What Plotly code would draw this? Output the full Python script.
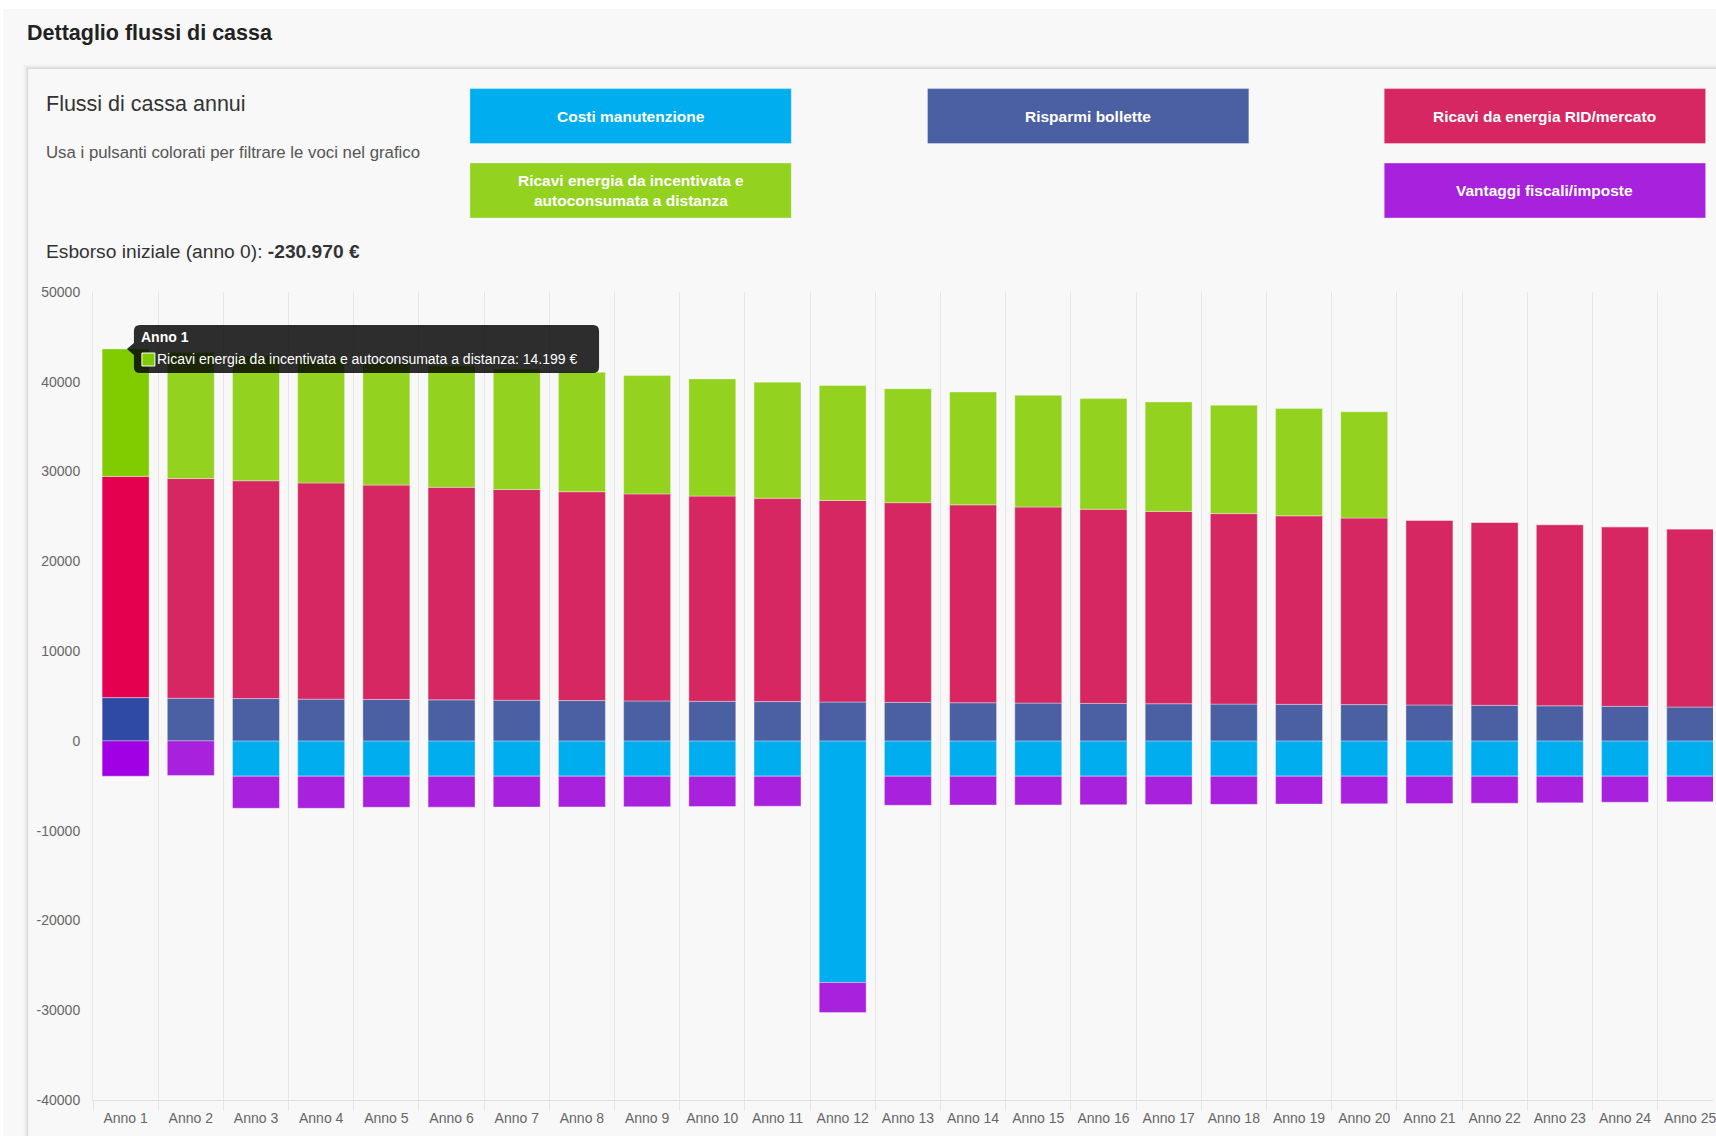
import plotly.graph_objects as go

# ---------------- data ----------------
anni = ["Anno 1", "Anno 2", "Anno 3", "Anno 4", "Anno 5", "Anno 6", "Anno 7", "Anno 8",
        "Anno 9", "Anno 10", "Anno 11", "Anno 12", "Anno 13", "Anno 14", "Anno 15",
        "Anno 16", "Anno 17", "Anno 18", "Anno 19", "Anno 20", "Anno 21", "Anno 22",
        "Anno 23", "Anno 24", "Anno 25"]

costi_manutenzione = [0, 0, -3930, -3930, -3930, -3930, -3930, -3930, -3930, -3930, -3930,
                      -26920, -3930, -3930, -3930, -3930, -3930, -3930, -3930, -3930, -3930,
                      -3930, -3930, -3930, -3930]
risparmi_bollette = [4820, 4745, 4710, 4650, 4610, 4570, 4530, 4490, 4450, 4410, 4375, 4330,
                     4290, 4250, 4210, 4170, 4140, 4100, 4070, 4040, 4000, 3960, 3910, 3850, 3770]
ricavi_rid = [24640, 24475, 24265, 24080, 23880, 23675, 23470, 23265, 23060, 22855, 22645,
              22450, 22245, 22040, 21835, 21630, 21420, 21215, 21000, 20785, 20580, 20380,
              20180, 20000, 19840]
ricavi_incentivata = [14199, 14030, 13905, 13785, 13660, 13535, 13415, 13295, 13180, 13055,
                      12935, 12810, 12685, 12570, 12445, 12325, 12200, 12075, 11960, 11835,
                      0, 0, 0, 0, 0]
vantaggi_fiscali = [-3930, -3850, -3570, -3570, -3460, -3450, -3440, -3420, -3400, -3380,
                    -3340, -3340, -3240, -3220, -3200, -3180, -3160, -3140, -3100, -3080,
                    -3050, -3010, -2970, -2900, -2860]

y_tick_vals = [50000, 40000, 30000, 20000, 10000, 0, -10000, -20000, -30000, -40000]
y_tick_text = ["50000", "40000", "30000", "20000", "10000", "0", "-10000", "-20000", "-30000", "-40000"]

esborso_iniziale = "-230.970 €"
tooltip_anno = "Anno 1"
tooltip_valore = "14.199 €"

# ---------------- layout geometry (page pixels) ----------------
W, H = 1716, 1136
PL, PR, PT, PB = 93, 1716, 292, 1100   # plot area in page pixels
FONT = "Liberation Sans, Arial, Helvetica, sans-serif"


def X(p):
    return (p - PL) / (PR - PL)


def Y(p):
    return (PB - p) / (PB - PT)


series = [
    ("Costi manutenzione", costi_manutenzione, "#00AEEF", "#00AEEF"),
    ("Risparmi bollette", risparmi_bollette, "#4A60A3", "#2E4AA3"),
    ("Ricavi da energia RID/mercato", ricavi_rid, "#D62762", "#E4004F"),
    ("Ricavi energia da incentivata e autoconsumata a distanza", ricavi_incentivata, "#93D21E", "#80CC00"),
    ("Vantaggi fiscali/imposte", vantaggi_fiscali, "#A821DD", "#A100E4"),
]

fig = go.Figure()
for name, vals, col, hcol in series:
    colors = [hcol] + [col] * (len(anni) - 1)
    fig.add_trace(go.Bar(
        x=anni, y=vals, name=name,
        marker=dict(color=colors, line=dict(color="rgba(255,255,255,0.35)", width=1)),
        hoverinfo="skip",
    ))

shapes = []
# outer container
shapes.append(dict(type="rect", xref="paper", yref="paper", layer="below",
                   x0=X(3), x1=X(1760), y0=Y(9), y1=Y(1160),
                   fillcolor="#f8f8f8", line=dict(width=0)))
# card shadow
for k, a in [(5, 0.012), (4, 0.016), (3, 0.022), (2, 0.03), (1, 0.045)]:
    shapes.append(dict(type="rect", xref="paper", yref="paper", layer="below",
                       x0=X(28 - k), x1=X(1760), y0=Y(69 - k), y1=Y(1160),
                       fillcolor=f"rgba(0,0,0,{a})", line=dict(width=0)))
shapes.append(dict(type="rect", xref="paper", yref="paper", layer="below",
                   x0=X(28), x1=X(1760), y0=Y(69), y1=Y(1160),
                   fillcolor="#f8f8f8", line=dict(width=0)))

# buttons
buttons = [
    ("Costi manutenzione", 470.6, 88.6, "#00AEEF"),
    ("Risparmi bollette", 929, 88.6, "#4A60A3"),
    ("Ricavi da energia RID/mercato", 1386.6, 88.6, "#D62762"),
    ("Ricavi energia da incentivata e<br>autoconsumata a distanza", 470.6, 163, "#93D21E"),
    ("Vantaggi fiscali/imposte", 1386.6, 163, "#A821DD"),
]
BW, BH = 322, 55
annotations = []
for label, bx, by, col in buttons:
    shapes.append(dict(type="rect", xref="paper", yref="paper", layer="above",
                       x0=X(bx), x1=X(bx + BW), y0=Y(by), y1=Y(by + BH),
                       fillcolor=col, line=dict(color="rgba(255,255,255,0.35)", width=1)))
    annotations.append(dict(xref="paper", yref="paper", x=X(bx + BW / 2), y=Y(by + BH / 2),
                            text=f"<b>{label}</b>", showarrow=False, xanchor="center",
                            yanchor="middle", align="center",
                            font=dict(family=FONT, size=15.5, color="white")))

# tooltip
x0, x1, y0, y1, r = 134, 600, 325, 373, 6
path = (f"M {X(x0 + r)},{Y(y0)} L {X(x1 - r)},{Y(y0)} Q {X(x1)},{Y(y0)} {X(x1)},{Y(y0 + r)} "
        f"L {X(x1)},{Y(y1 - r)} Q {X(x1)},{Y(y1)} {X(x1 - r)},{Y(y1)} "
        f"L {X(x0 + r)},{Y(y1)} Q {X(x0)},{Y(y1)} {X(x0)},{Y(y1 - r)} "
        f"L {X(x0)},{Y(355)} L {X(127)},{Y(349)} L {X(x0)},{Y(343)} "
        f"L {X(x0)},{Y(y0 + r)} Q {X(x0)},{Y(y0)} {X(x0 + r)},{Y(y0)} Z")
shapes.append(dict(type="path", xref="paper", yref="paper", layer="above", path=path,
                   fillcolor="rgba(0,0,0,0.82)", line=dict(width=0)))
shapes.append(dict(type="rect", xref="paper", yref="paper", layer="above",
                   x0=X(142), x1=X(155), y0=Y(353), y1=Y(366),
                   fillcolor="#80CC00", line=dict(color="white", width=1)))

annotations += [
    dict(xref="paper", yref="paper", x=X(139), y=Y(337), text=f"<b>{tooltip_anno}</b>",
         showarrow=False, xanchor="left", yanchor="middle",
         font=dict(family=FONT, size=14, color="white")),
    dict(xref="paper", yref="paper", x=X(155), y=Y(359),
         text=f"Ricavi energia da incentivata e autoconsumata a distanza: {tooltip_valore}",
         showarrow=False, xanchor="left", yanchor="middle",
         font=dict(family=FONT, size=14, color="white")),
    dict(xref="paper", yref="paper", x=X(25), y=Y(33), text="<b>Dettaglio flussi di cassa</b>",
         showarrow=False, xanchor="left", yanchor="middle",
         font=dict(family=FONT, size=21.5, color="#222222")),
    dict(xref="paper", yref="paper", x=X(44), y=Y(104), text="Flussi di cassa annui",
         showarrow=False, xanchor="left", yanchor="middle",
         font=dict(family=FONT, size=21.5, color="#333333")),
    dict(xref="paper", yref="paper", x=X(44), y=Y(152),
         text="Usa i pulsanti colorati per filtrare le voci nel grafico",
         showarrow=False, xanchor="left", yanchor="middle",
         font=dict(family=FONT, size=16.8, color="#555555")),
    dict(xref="paper", yref="paper", x=X(44), y=Y(252),
         text=f"Esborso iniziale (anno 0): <b>{esborso_iniziale}</b>",
         showarrow=False, xanchor="left", yanchor="middle",
         font=dict(family=FONT, size=19.2, color="#333333")),
]

fig.update_layout(
    width=W, height=H,
    margin=dict(l=PL, r=W - PR, t=PT, b=H - PB, pad=0),
    paper_bgcolor="white",
    plot_bgcolor="rgba(0,0,0,0)",
    barmode="relative",
    bargap=0.28,
    showlegend=False,
    hovermode=False,
    shapes=shapes,
    annotations=annotations,
    font=dict(family=FONT, color="#666666"),
    xaxis=dict(
        type="category", range=[-0.5, 24.35], tickson="boundaries",
        showgrid=True, gridcolor="#e6e6e6", gridwidth=1,
        ticks="outside", ticklen=10, tickcolor="#e6e6e6",
        showline=True, linecolor="#e0e0e0", linewidth=1,
        tickangle=0, ticklabelstandoff=5,
        tickfont=dict(family=FONT, size=14, color="#666666"),
        fixedrange=True,
    ),
    yaxis=dict(
        range=[-40000, 50000], tickvals=y_tick_vals, ticktext=y_tick_text,
        showgrid=False, zeroline=False, showline=True, linecolor="#e6e6e6",
        ticks="", ticklabelstandoff=9,
        tickfont=dict(family=FONT, size=14, color="#666666"),
        fixedrange=True,
    ),
)

fig.write_html(
    "out.html",
    config={"displayModeBar": False},
    post_script="document.body.style.margin='0';document.body.style.overflow='hidden';",
)
